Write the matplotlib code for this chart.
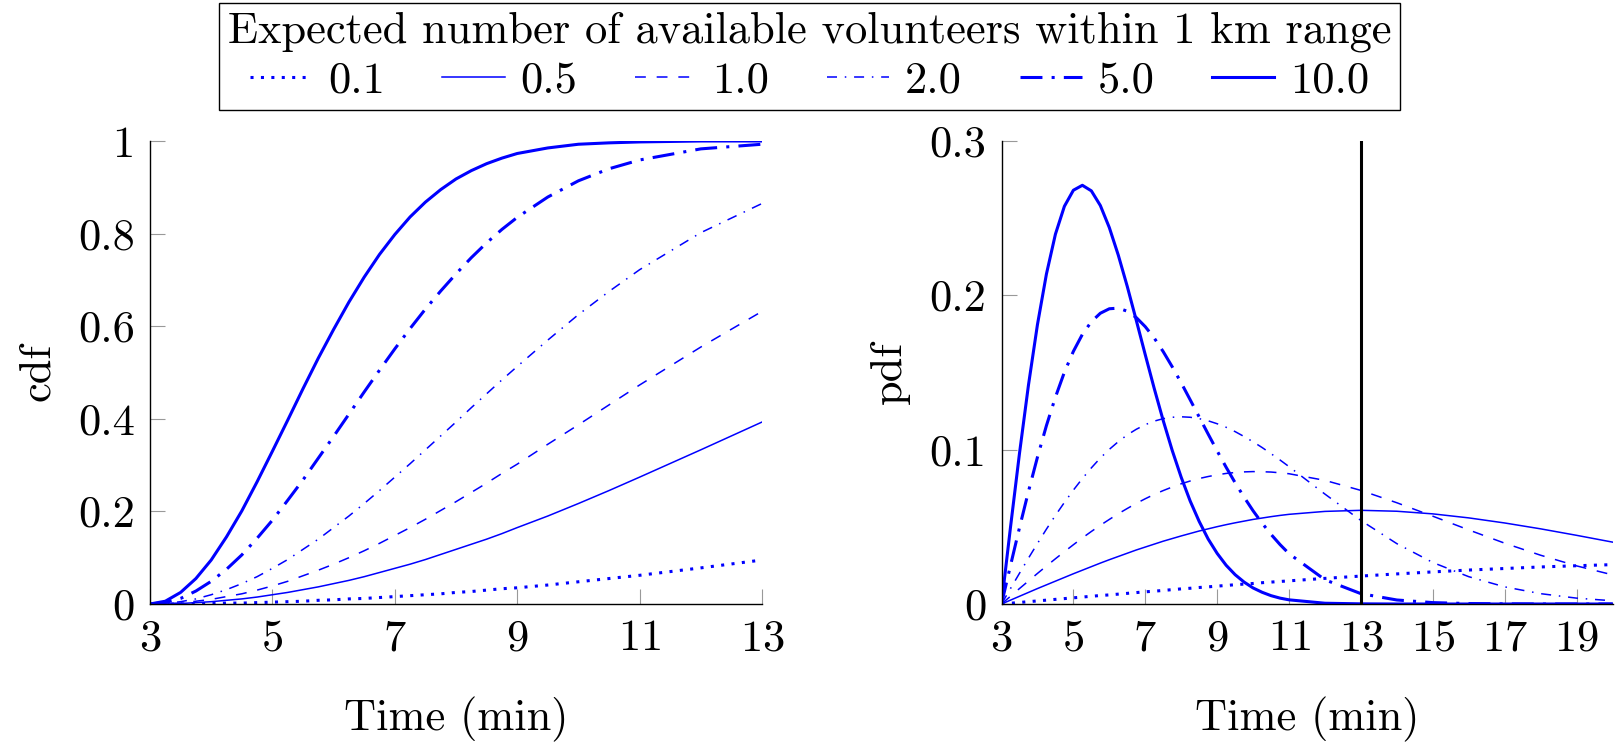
import matplotlib
matplotlib.use("Agg")
import matplotlib.pyplot as plt

plt.rcParams['font.family'] = 'cmr10'
plt.rcParams['mathtext.fontset'] = 'cm'
plt.rcParams['axes.formatter.use_mathtext'] = True
plt.rcParams['lines.scale_dashes'] = False

# volunteers expected within 1 km
levels = ['0.1', '0.5', '1.0', '2.0', '5.0', '10.0']

# cdf panel, time in minutes
t_cdf = [3, 3.25, 3.5, 3.75, 4, 4.25, 4.5, 4.75, 5, 5.25, 5.5, 5.75, 6, 6.25, 6.5, 6.75, 7,
         7.25, 7.5, 7.75, 8, 8.25, 8.5, 8.75, 9, 9.5, 10, 10.5, 11, 12, 13]
cdf_01 = [0, .000, .000, .001, .001, .002, .002, .003, .004, .005, .006, .008, .009, .011, .012,
          .014, .016, .018, .020, .022, .025, .027, .030, .033, .035, .041, .048, .055, .062, .078, .095]
cdf_05 = [0, .000, .001, .003, .005, .008, .011, .015, .020, .025, .031, .037, .044, .051, .059,
          .068, .077, .086, .096, .107, .118, .129, .140, .152, .165, .190, .217, .245, .274, .333, .393]
cdf_1 = [0, .001, .002, .006, .010, .016, .022, .030, .039, .049, .061, .073, .086, .100, .115,
         .131, .148, .165, .183, .202, .221, .241, .261, .282, .302, .345, .387, .430, .473, .555, .632]
cdf_2 = [0, .001, .005, .011, .020, .031, .044, .059, .077, .096, .118, .140, .165, .190, .217,
         .245, .274, .303, .333, .363, .393, .424, .454, .484, .513, .570, .625, .675, .722, .802, .865]
cdf_5 = [0, .003, .012, .028, .049, .075, .106, .142, .181, .224, .268, .315, .362, .410, .458,
         .505, .551, .595, .637, .676, .713, .748, .780, .809, .835, .879, .914, .940, .959, .983, .993]
cdf_10 = [0, .006, .025, .055, .095, .145, .201, .264, .330, .397, .465, .531, .593, .652, .706,
          .755, .798, .836, .868, .895, .918, .936, .951, .963, .973, .985, .993, .996, .998, 1.0, 1.0]

# pdf panel
t_pdf = [3, 3.25, 3.5, 3.75, 4, 4.25, 4.5, 4.75, 5, 5.25, 5.5, 5.75, 6, 6.25, 6.5, 6.75, 7,
         7.25, 7.5, 7.75, 8, 8.25, 8.5, 8.75, 9, 9.25, 9.5, 9.75, 10, 10.25, 10.5, 10.75, 11,
         12, 13, 14, 15, 16, 17, 18, 19, 20]
pdf_01 = [0, .0005, .0010, .0015, .0020, .0025, .0030, .0035, .0040, .0045, .0050, .0055, .0059,
          .0064, .0069, .0074, .0079, .0083, .0088, .0093, .0098, .0102, .0107, .0111, .0116,
          .0120, .0125, .0129, .0133, .0138, .0142, .0146, .0150,
          .0166, .0181, .0195, .0208, .0220, .0230, .0240, .0248, .0255]
pdf_05 = [0, .0025, .0050, .0075, .0100, .0124, .0148, .0172, .0196, .0219, .0242, .0265, .0287,
          .0308, .0329, .0350, .0369, .0388, .0407, .0424, .0441, .0457, .0473, .0487, .0501,
          .0514, .0526, .0537, .0548, .0557, .0566, .0574, .0581,
          .0600, .0607, .0601, .0584, .0558, .0525, .0487, .0445, .0401]
pdf_1 = [0, .0050, .0100, .0149, .0198, .0246, .0293, .0339, .0384, .0428, .0470, .0510, .0548,
         .0585, .0619, .0652, .0682, .0710, .0735, .0758, .0779, .0797, .0813, .0826, .0837,
         .0846, .0852, .0856, .0858, .0857, .0855, .0850, .0844,
         .0801, .0736, .0656, .0569, .0480, .0394, .0316, .0247, .0189]
pdf_2 = [0, .0100, .0199, .0297, .0392, .0485, .0574, .0658, .0738, .0813, .0882, .0946, .1002,
         .1052, .1096, .1132, .1162, .1185, .1201, .1210, .1213, .1210, .1201, .1187, .1168,
         .1145, .1117, .1085, .1051, .1014, .0974, .0933, .0890,
         .0712, .0541, .0391, .0269, .0177, .0111, .0067, .0038, .0021]
pdf_5 = [0, .0249, .0494, .0729, .0951, .1156, .1340, .1502, .1637, .1747, .1829, .1884, .1913,
         .1917, .1897, .1856, .1797, .1723, .1635, .1537, .1433, .1323, .1212, .1101, .0992,
         .0886, .0786, .0692, .0604, .0524, .0451, .0385, .0326,
         .0157, .0067, .0026, .0009, .0003, .0001, 0, 0, 0]
pdf_10 = [0, .0497, .0975, .1418, .1810, .2138, .2396, .2577, .2681, .2713, .2677, .2582, .2439,
          .2260, .2057, .1838, .1615, .1396, .1188, .0995, .0821, .0667, .0535, .0421, .0328,
          .0251, .0190, .0142, .0104, .0076, .0054, .0038, .0027,
          .0005, .0001, 0, 0, 0, 0, 0, 0, 0]

cdfs = [cdf_01, cdf_05, cdf_1, cdf_2, cdf_5, cdf_10]
pdfs = [pdf_01, pdf_05, pdf_1, pdf_2, pdf_5, pdf_10]

thin = 1.1
thick = 2.2
styles = [
    dict(lw=thick, dashes=(thick, 5.3)),
    dict(lw=thin, ls='-'),
    dict(lw=thin, dashes=(7.8, 7.8)),
    dict(lw=thin, dashes=(7.2, 5.6, thin, 5.6)),
    dict(lw=thick, dashes=(15.8, 6.6, thick, 6.6)),
    dict(lw=thick, ls='-'),
]

fs = 32
fig = plt.figure(figsize=(16.19, 7.42), dpi=100)
ax1 = fig.add_axes([150 / 1619, 138 / 742, 612 / 1619, 463 / 742])
ax2 = fig.add_axes([1001.5 / 1619, 138 / 742, 611 / 1619, 463 / 742])

handles = []
for y, st, lab in zip(cdfs, styles, levels):
    h, = ax1.plot(t_cdf, y, color='blue', label=lab, dash_capstyle='butt', **st)
    handles.append(h)
for y, st in zip(pdfs, styles):
    ax2.plot(t_pdf, y, color='blue', dash_capstyle='butt', **st)
ax2.plot([13, 13], [0, 0.3], color='black', lw=2.2)

for ax in (ax1, ax2):
    ax.spines['top'].set_visible(False)
    ax.spines['right'].set_visible(False)
    for s in ('left', 'bottom'):
        ax.spines[s].set_linewidth(1.0)
    ax.tick_params(direction='in', length=11, width=0.8, color='#999999',
                   labelsize=fs, pad=11)
    ax.set_xlabel('Time (min)', fontsize=fs, labelpad=27)

ax1.set_xlim(3, 13)
ax1.set_ylim(0, 1)
ax1.set_xticks([3, 5, 7, 9, 11, 13])
ax1.set_yticks([0, 0.2, 0.4, 0.6, 0.8, 1])
ax1.set_yticklabels(['0', '0.2', '0.4', '0.6', '0.8', '1'])
ax1.set_ylabel('cdf', fontsize=fs, labelpad=14)

ax2.set_xlim(3, 20)
ax2.set_ylim(0, 0.3)
ax2.set_xticks([3, 5, 7, 9, 11, 13, 15, 17, 19])
ax2.set_yticks([0, 0.1, 0.2, 0.3])
ax2.set_yticklabels(['0', '0.1', '0.2', '0.3'])
ax2.set_ylabel('pdf', fontsize=fs, labelpad=14)

leg = fig.legend(handles=handles, loc='upper center', bbox_to_anchor=(0.5, 0.996), ncol=6,
                 title='Expected number of available volunteers within 1 km range',
                 fontsize=fs, title_fontsize=fs, frameon=True, fancybox=False,
                 edgecolor='black', framealpha=1, borderpad=0.2, borderaxespad=0,
                 handlelength=1.4, handletextpad=0.35, columnspacing=1.3,
                 labelspacing=0.2)
leg.get_frame().set_linewidth(1.0)

fig.savefig('out.png', dpi=100)
